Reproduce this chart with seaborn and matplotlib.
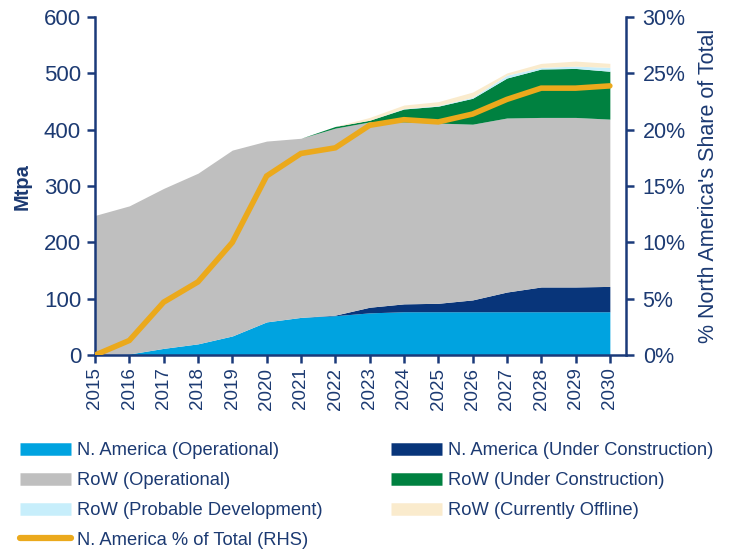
import numpy as np
import pandas as pd
import matplotlib
matplotlib.use("Agg")
import matplotlib.pyplot as plt
from matplotlib.lines import Line2D
import seaborn as sns

years = list(range(2015, 2031))
na_operational = [0, 2, 12, 20, 34, 59, 67, 70, 75, 77, 77, 77, 77, 77, 77, 77]
na_under_construction = [0, 0, 0, 0, 0, 0, 0, 1, 10, 14, 15, 21, 35, 44, 44, 45]
row_operational = [248, 263, 284, 303, 330, 321, 318, 332, 329, 323, 320, 312, 309, 301, 301, 297]
row_under_construction = [0, 0, 0, 0, 0, 0, 0, 3, 3, 23, 30, 46, 71, 86, 87, 85]
row_probable = [0, 0, 0, 0, 0, 0, 0, 0, 0, 1, 1, 2, 5, 3, 4, 7]
row_offline = [0, 0, 0, 0, 0, 0, 0, 0, 5, 6, 7, 9, 4, 7, 9, 7]
na_share_pct = [0.0, 1.3, 4.7, 6.5, 10.0, 15.9, 17.9, 18.4, 20.4, 20.9, 20.7, 21.4, 22.7, 23.7, 23.7, 23.9]

series_names = ["N. America (Operational)", "N. America (Under Construction)",
                "RoW (Operational)", "RoW (Under Construction)",
                "RoW (Probable Development)", "RoW (Currently Offline)"]
line_name = "N. America % of Total (RHS)"

colors = ["#00A3E0", "#08357A", "#BFBFBF", "#008140", "#C7EEFB", "#FAEBCD"]
line_color = "#EBA91C"
navy = "#1B3A7A"
text_color = "#1C3A72"

sns.set_theme(style="white")
plt.rcParams['font.family'] = ['Liberation Sans', 'DejaVu Sans']

fig = plt.figure(figsize=(7.33, 5.54), dpi=100)
ax = fig.add_axes([0.1296, 0.359, 0.854 - 0.1296, 0.969 - 0.359])

ax.stackplot(years, na_operational, na_under_construction, row_operational,
             row_under_construction, row_probable, row_offline,
             colors=colors, linewidth=0)
ax.set_xlim(2015, 2030.47)
ax.set_ylim(0, 600)
ax.set_yticks(range(0, 601, 100))
ax.set_xticks(years)
ax.set_xticklabels([str(y) for y in years], rotation=90)
ax.set_ylabel("Mtpa", fontsize=14.5, fontweight="bold", color=text_color, labelpad=9)

ax2 = ax.twinx()
df = pd.DataFrame({"year": years, "pct": na_share_pct})
sns.lineplot(data=df, x="year", y="pct", ax=ax2, color=line_color, linewidth=4,
             solid_capstyle="round", solid_joinstyle="miter")
ax2.set_ylim(0, 30)
ax2.set_yticks(range(0, 31, 5))
ax2.set_yticklabels([f"{v}%" for v in range(0, 31, 5)])
ax2.set_xlim(2015, 2030.47)
ax2.set_xlabel("")
ax2.set_ylabel("% North America's Share of Total", fontsize=15.5, color=text_color, labelpad=9)

for a in (ax, ax2):
    a.spines["top"].set_visible(False)
    for s in ("left", "right", "bottom"):
        a.spines[s].set_color(navy)
        a.spines[s].set_linewidth(1.8)
    a.grid(False)

ax.spines["right"].set_visible(False)
ax2.spines["left"].set_visible(False)
ax2.spines["bottom"].set_visible(False)

ax.tick_params(axis="y", direction="out", length=6, width=1.8, color=navy,
               labelsize=16, labelcolor=text_color, pad=4, left=True)
ax.tick_params(axis="x", direction="out", length=6, width=1.8, color=navy,
               labelsize=13.5, labelcolor=text_color, pad=3, bottom=True)
ax2.tick_params(axis="y", direction="out", length=6, width=1.8, color=navy,
                labelsize=15.5, labelcolor=text_color, pad=6, right=True)

handles = [Line2D([0], [0], color=c, lw=9, solid_capstyle="butt") for c in colors]
line_handle = Line2D([0], [0], color=line_color, lw=4.5, solid_capstyle="round")

leg_kw = dict(loc="upper left", ncol=1, frameon=False, fontsize=13.2,
              handlelength=2.8, handletextpad=0.3, labelspacing=0.7,
              borderaxespad=0, borderpad=0)
leg1 = fig.legend([handles[0], handles[2], handles[4], line_handle],
                  [series_names[0], series_names[2], series_names[4], line_name],
                  bbox_to_anchor=(0.0273, 0.2015), **leg_kw)
leg2 = fig.legend([handles[1], handles[3], handles[5]],
                  [series_names[1], series_names[3], series_names[5]],
                  bbox_to_anchor=(0.5334, 0.2015), **leg_kw)
for lg in (leg1, leg2):
    for t in lg.get_texts():
        t.set_color(text_color)

fig.savefig("out.png", dpi=100)
